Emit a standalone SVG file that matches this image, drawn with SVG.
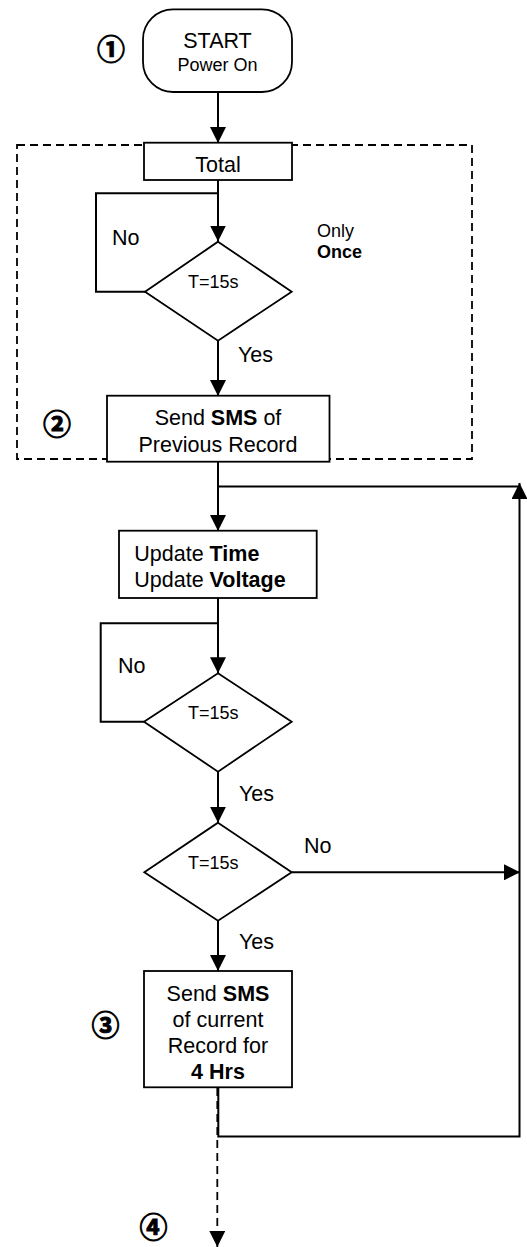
<svg xmlns="http://www.w3.org/2000/svg" width="527" height="1247" viewBox="0 0 527 1247">
<defs>
<style>
.box{fill:#fff;stroke:#000;stroke-width:1.8}
.ln{fill:none;stroke:#000;stroke-width:2}
.dash{fill:none;stroke:#000;stroke-width:1.8;stroke-dasharray:8 5}
.t{font-family:"Liberation Sans",Arial,sans-serif;font-size:21.5px;fill:#000}
.s{font-family:"Liberation Sans",Arial,sans-serif;font-size:18px;fill:#000}
.b{font-weight:bold}
.num{font-family:"Noto Sans CJK SC","DejaVu Sans",sans-serif;font-size:28px;font-weight:bold;fill:#000;stroke:#000;stroke-width:0.9}
</style>
<marker id="ah" markerUnits="userSpaceOnUse" markerWidth="16" markerHeight="16" viewBox="0 0 16 16" refX="16" refY="8" orient="auto">
<path d="M0,0 L16,8 L0,16 Z" fill="#000"/>
</marker>
</defs>

<g id="connectors">
<line class="ln" x1="218" y1="92" x2="218" y2="143" marker-end="url(#ah)"/>
<line class="ln" x1="218" y1="180" x2="218" y2="241.5" marker-end="url(#ah)"/>
<polyline class="ln" points="145,291.7 96,291.7 96,193.3 218,193.3"/>
<line class="ln" x1="218" y1="341" x2="218" y2="396" marker-end="url(#ah)"/>
<line class="ln" x1="218" y1="462" x2="218" y2="531" marker-end="url(#ah)"/>
<line class="ln" x1="218" y1="486.5" x2="519.5" y2="486.5"/>
<line class="ln" x1="218" y1="598" x2="218" y2="673.3" marker-end="url(#ah)"/>
<polyline class="ln" points="144,721.7 100.7,721.7 100.7,623.3 218,623.3"/>
<line class="ln" x1="218" y1="771.7" x2="218" y2="822.7" marker-end="url(#ah)"/>
<line class="ln" x1="291.7" y1="872.3" x2="520" y2="872.3" marker-end="url(#ah)"/>
<line class="ln" x1="218" y1="920.7" x2="218" y2="971" marker-end="url(#ah)"/>
<polyline class="ln" points="218.3,1087.3 218.3,1136.5 519.5,1136.5 519.5,483" marker-end="url(#ah)"/>
<line class="dash" x1="217.3" y1="1088" x2="217.3" y2="1247" marker-end="url(#ah)"/>
</g>

<g id="group-once">
<rect class="dash" x="17" y="145" width="455" height="314"/>
<text class="s" x="317" y="236.7">Only</text>
<text class="s b" x="317" y="257.7">Once</text>
</g>

<g id="start">
<rect class="box" x="143" y="9.3" width="149" height="82.7" rx="30" ry="30"/>
<text class="t" x="217.5" y="48" text-anchor="middle">START</text>
<text class="s" x="217.5" y="71" text-anchor="middle">Power On</text>
</g>

<g id="total">
<rect class="box" x="144" y="142.7" width="148" height="37.3"/>
<text class="t" x="218" y="172" text-anchor="middle">Total</text>
</g>

<g id="decision1">
<polygon class="box" points="218,241.7 291.7,291.7 218,340.7 145,291.7"/>
<text class="s" x="188" y="288">T=15s</text>
<text class="t" x="112" y="245">No</text>
<text class="t" x="238" y="362">Yes</text>
</g>

<g id="send-prev">
<rect class="box" x="107" y="395.7" width="222.5" height="66"/>
<text class="t" x="218" y="425" text-anchor="middle">Send <tspan class="b">SMS</tspan> of</text>
<text class="t" x="218" y="451.5" text-anchor="middle">Previous Record</text>
</g>

<g id="update">
<rect class="box" x="119" y="530.7" width="197.7" height="67.3"/>
<text class="t" x="134.3" y="560.7">Update <tspan class="b">Time</tspan></text>
<text class="t" x="134.3" y="587.3">Update <tspan class="b">Voltage</tspan></text>
</g>

<g id="decision2">
<polygon class="box" points="218,673.3 291.7,721.7 218,771.7 144,721.7"/>
<text class="s" x="188" y="719.3">T=15s</text>
<text class="t" x="118" y="673.3">No</text>
<text class="t" x="239" y="800.7">Yes</text>
</g>

<g id="decision3">
<polygon class="box" points="218,822.7 291.7,872.3 218,920.7 144.3,872.3"/>
<text class="s" x="188" y="869.3">T=15s</text>
<text class="t" x="304" y="853.3">No</text>
<text class="t" x="239" y="949.3">Yes</text>
</g>

<g id="send-current">
<rect class="box" x="144" y="971" width="148" height="116.3"/>
<text class="t" x="218" y="1000.7" text-anchor="middle">Send <tspan class="b">SMS</tspan></text>
<text class="t" x="218" y="1026.7" text-anchor="middle">of current</text>
<text class="t" x="218" y="1052.7" text-anchor="middle">Record for</text>
<text class="t b" x="218" y="1079" text-anchor="middle">4 Hrs</text>
</g>

<g id="markers">
<text class="num" x="111" y="60" text-anchor="middle">①</text>
<text class="num" x="57" y="435" text-anchor="middle">②</text>
<text class="num" x="105.5" y="1036" text-anchor="middle">③</text>
<text class="num" x="153.5" y="1238" text-anchor="middle">④</text>
</g>
</svg>
